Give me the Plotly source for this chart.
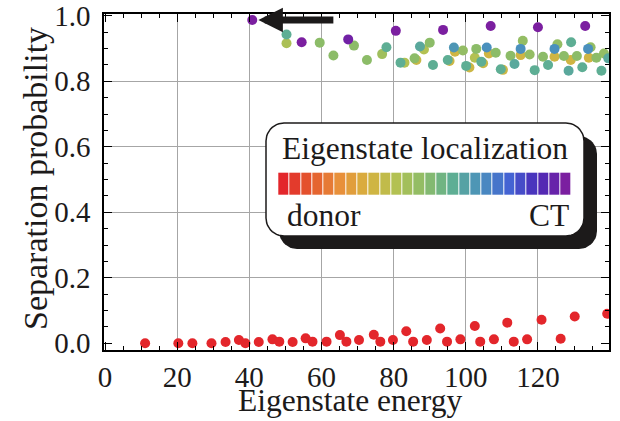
import numpy as np
import plotly.graph_objects as go

# ---------------- data ----------------
# donor-localized states (bottom series, localization = 0)
low_energy = [11.1, 20.3, 24.2, 29.5, 33.4, 37.1, 38.9, 42.6, 46.4, 48.3, 52.0, 55.6,
              57.5, 61.4, 65.1, 66.9, 70.4, 74.5, 76.3, 79.8, 83.5, 85.4, 89.2, 92.9,
              94.8, 98.5, 102.5, 104.0, 107.8, 111.5, 113.3, 117.0, 121.0, 126.3, 130.2, 139.2]
low_prob = [0.0, 0.0, 0.0, 0.0, 0.004, 0.01, 0.0, 0.004, 0.012, 0.005, 0.004, 0.015,
            0.005, 0.005, 0.025, 0.005, 0.01, 0.026, 0.005, 0.01, 0.037, 0.005, 0.01, 0.045,
            0.005, 0.012, 0.053, 0.005, 0.012, 0.063, 0.005, 0.012, 0.072, 0.014, 0.082, 0.09]
low_loc = [0.0] * len(low_energy)

# CT / mixed states (top series)
top_energy = [40.8, 50.3, 50.3, 54.5, 59.5, 63.3, 67.4, 69.0, 72.6, 76.8, 78.0, 80.6,
              81.9, 83.0, 86.3, 85.8, 87.3, 88.4, 90.0, 90.9, 93.7, 95.5, 95.0, 97.0,
              96.7, 99.2, 101.0, 100.1, 102.9, 102.5, 104.8, 104.3, 106.4, 105.8, 106.9, 108.3,
              110.3, 109.7, 112.4, 113.5, 115.2, 115.2, 115.8, 117.7, 119.1, 120.0, 121.4, 122.8,
              124.6, 124.6, 125.4, 127.2, 128.5, 129.1, 129.2, 130.8, 132.3, 133.1, 134.1, 133.9,
              134.6, 136.2, 137.6, 138.3, 139.5]
top_prob = [0.987, 0.943, 0.916, 0.919, 0.918, 0.879, 0.928, 0.909, 0.865, 0.883, 0.904, 0.954,
            0.857, 0.857, 0.865, 0.870, 0.906, 0.897, 0.918, 0.850, 0.957, 0.862, 0.865, 0.890,
            0.903, 0.894, 0.842, 0.847, 0.899, 0.872, 0.855, 0.860, 0.885, 0.903, 0.969, 0.887,
            0.835, 0.837, 0.878, 0.853, 0.880, 0.899, 0.924, 0.882, 0.834, 0.965, 0.875, 0.850,
            0.875, 0.899, 0.913, 0.877, 0.832, 0.865, 0.919, 0.877, 0.843, 0.969, 0.872, 0.899,
            0.904, 0.872, 0.832, 0.885, 0.870]
top_loc = [1.0, 0.60, 0.42, 1.0, 0.50, 0.50, 0.98, 0.50, 0.50, 0.45, 0.60, 1.0,
           0.60, 0.40, 0.34, 0.50, 0.62, 0.40, 0.50, 0.60, 1.0, 0.33, 0.60, 0.32,
           0.68, 0.48, 0.33, 0.60, 0.50, 0.40, 0.34, 0.60, 0.32, 0.70, 1.0, 0.50,
           0.33, 0.60, 0.50, 0.62, 0.32, 0.70, 0.48, 0.48, 0.60, 1.0, 0.50, 0.60,
           0.32, 0.70, 0.48, 0.50, 0.62, 0.32, 0.60, 0.50, 0.60, 1.0, 0.32, 0.70,
           0.48, 0.50, 0.60, 0.48, 0.62]

legend_levels = list(np.linspace(0, 1, 26))

x_ticks = [0, 20, 40, 60, 80, 100, 120]
y_ticks = [0.0, 0.2, 0.4, 0.6, 0.8, 1.0]
grid_x = [20, 40, 60, 80, 100, 120]
grid_y = [0.2, 0.4, 0.6, 0.8]

# ---------------- style ----------------
FONT = "Times New Roman, Liberation Serif, Times, serif"
INK = "#1c1a1a"
cscale = [[0.0, '#e3262b'], [0.1, '#e45a2e'], [0.2, '#e8903a'], [0.3, '#d6b23f'],
          [0.4, '#b3c152'], [0.5, '#8cbc68'], [0.6, '#5eae94'], [0.7, '#4a90bd'],
          [0.8, '#4463d3'], [0.9, '#4a2ab8'], [1.0, '#7b1fa0']]

W, H = 620, 421
ML, MR, MT, MB = 104, 11, 14, 71
XR = [-0.3, 139.7]
YR = [-0.0205, 1.0055]

def px2paper(px, py):
    return (px - ML) / (W - ML - MR), (H - MB - py) / (H - MT - MB)

fig = go.Figure()

# merge series, draw higher-localization on top
energy = low_energy + top_energy
prob = low_prob + top_prob
loc = low_loc + top_loc
order = np.argsort(loc, kind="stable")
fig.add_trace(go.Scatter(
    x=[energy[i] for i in order], y=[prob[i] for i in order], mode="markers",
    marker=dict(size=10, color=[loc[i] for i in order], colorscale=cscale,
                cmin=0, cmax=1, showscale=False, line=dict(width=0)),
    xaxis="x", yaxis="y", hoverinfo="skip", showlegend=False))

# grid carrier
fig.add_trace(go.Scatter(x=[None], y=[None], xaxis="x2", yaxis="y2", showlegend=False))

# legend box (pixel coordinate overlay)
def rrect(x0, y0, x1, y1, r, n=12):
    pts = []
    for cx, cy, a0 in [(x1 - r, y0 + r, -90), (x1 - r, y1 - r, 0),
                       (x0 + r, y1 - r, 90), (x0 + r, y0 + r, 180)]:
        for a in np.linspace(a0, a0 + 90, n):
            t = np.deg2rad(a)
            pts.append((cx + r * np.cos(t), cy + r * np.sin(t)))
    pts.append(pts[0])
    return [p[0] for p in pts], [p[1] for p in pts]

sx, sy = rrect(279, 136, 597, 249, 18)
fig.add_trace(go.Scatter(x=sx, y=sy, mode="lines", fill="toself", fillcolor=INK,
                         line=dict(color=INK, width=0), xaxis="x3", yaxis="y3",
                         hoverinfo="skip", showlegend=False))
bx, by = rrect(266, 123, 584, 236, 18)
fig.add_trace(go.Scatter(x=bx, y=by, mode="lines", fill="toself", fillcolor="white",
                         line=dict(color=INK, width=1.5), xaxis="x3", yaxis="y3",
                         hoverinfo="skip", showlegend=False))

# legend colour strip
n = len(legend_levels)
x0s, x1s = 278.3, 571.7
fig.add_trace(go.Heatmap(z=[legend_levels], x0=x0s + (x1s - x0s) / n / 2, dx=(x1s - x0s) / n,
                         y0=183.9, dy=22.4, colorscale=cscale, zmin=0, zmax=1,
                         showscale=False, xgap=1, xaxis="x4", yaxis="y4", hoverinfo="skip"))

tick_font = dict(family=FONT, size=29, color=INK)
common = dict(showline=True, linecolor="black", linewidth=1.5, mirror="ticks",
              ticks="inside", ticklen=8, tickwidth=1, tickcolor="black",
              showgrid=False, zeroline=False, tickfont=tick_font, automargin=False,
              ticklabeloverflow="allow")

px_range_x = [ML, W - MR]
px_range_y = [H - MB, MT]
hidden = dict(showgrid=False, zeroline=False, showticklabels=False, ticks="",
              showline=False, fixedrange=True, automargin=False)

fig.update_layout(
    width=W, height=H, margin=dict(l=ML, r=MR, t=MT, b=MB, pad=0, autoexpand=False),
    paper_bgcolor="white", plot_bgcolor="white", showlegend=False,
    xaxis=dict(range=XR, tickvals=x_ticks, ticktext=[str(v) for v in x_ticks],
               minor=dict(ticks="inside", ticklen=4, dtick=5, tick0=0, tickcolor="black"),
               **common),
    yaxis=dict(range=YR, tickvals=y_ticks, ticktext=[f"{v:.1f}" for v in y_ticks],
               minor=dict(ticks="inside", ticklen=4, dtick=0.05, tick0=0, tickcolor="black"),
               ticklabelstandoff=6, **common),
    xaxis2=dict(overlaying="x", anchor="y2", range=XR, tickvals=grid_x, showgrid=True,
                gridcolor="#a6a6a6", gridwidth=1, showticklabels=False, ticks="",
                showline=False, zeroline=False, automargin=False),
    yaxis2=dict(overlaying="y", anchor="x2", range=YR, tickvals=grid_y, showgrid=True,
                gridcolor="#a6a6a6", gridwidth=1, showticklabels=False, ticks="",
                showline=False, zeroline=False, automargin=False),
    xaxis3=dict(overlaying="x", anchor="y3", range=px_range_x, **hidden),
    yaxis3=dict(overlaying="y", anchor="x3", range=px_range_y, **hidden),
    xaxis4=dict(overlaying="x", anchor="y4", range=px_range_x, **hidden),
    yaxis4=dict(overlaying="y", anchor="x4", range=px_range_y, **hidden),
)

# axis titles (paper coordinates)
tx, ty = px2paper(350, 401)
fig.add_annotation(text="Eigenstate energy", x=tx, y=ty, xref="paper", yref="paper",
                   showarrow=False, font=dict(family=FONT, size=31.5, color=INK),
                   xanchor="center", yanchor="middle", borderpad=0)
tx, ty = px2paper(35, 179)
fig.add_annotation(text="Separation probability", x=tx, y=ty, xref="paper", yref="paper",
                   showarrow=False, font=dict(family=FONT, size=34, color=INK), textangle=-90,
                   xanchor="center", yanchor="middle", borderpad=0)

leg_font = dict(family=FONT, size=31.5, color=INK)
fig.add_annotation(text="Eigenstate localization", x=425, y=148, xref="x3", yref="y3",
                   showarrow=False, font=leg_font, xanchor="center", yanchor="middle")
fig.add_annotation(text="donor", x=285, y=215, xref="x3", yref="y3", showarrow=False,
                   font=leg_font, xanchor="left", yanchor="middle")
fig.add_annotation(text="CT", x=571, y=215, xref="x3", yref="y3", showarrow=False,
                   font=leg_font, xanchor="right", yanchor="middle")

# arrow pointing at the most CT-like state
fig.add_annotation(x=42.5, y=0.987, ax=63.7, ay=0.987, xref="x", yref="y",
                   axref="x", ayref="y", text="", showarrow=True, arrowhead=2,
                   arrowwidth=7, arrowsize=0.7, arrowcolor=INK, standoff=0)

fig.write_html("out.html", post_script="document.body.style.margin='0';",
               config={"displayModeBar": False})
